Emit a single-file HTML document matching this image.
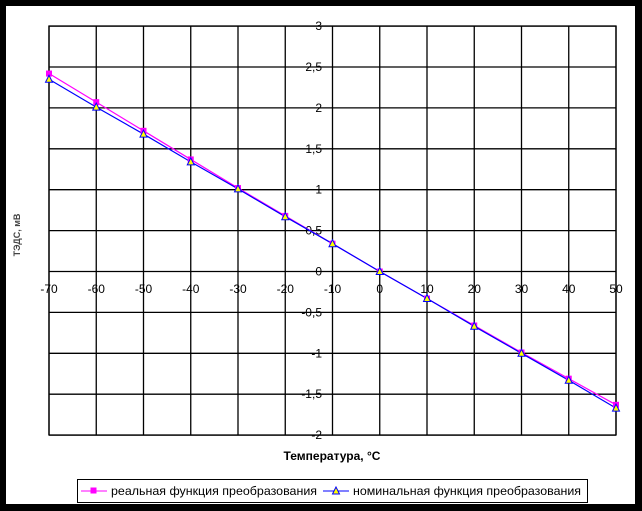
<!DOCTYPE html>
<html><head><meta charset="utf-8"><style>
body{margin:0;background:#000;}
svg{display:block;font-family:"Liberation Sans",sans-serif;}
</style></head><body>
<svg width="642" height="511" viewBox="0 0 642 511">
<rect x="0" y="0" width="642" height="511" fill="#000"/>
<rect x="6" y="6" width="629" height="498" fill="#fff"/>
<g stroke="#000" stroke-width="1.3">
<rect x="49" y="26" width="567" height="409" fill="none"/>
</g>
<g id="grid" stroke="#000" stroke-width="1.3"></g>
<g id="lbl" font-size="12" fill="#000"></g>
<g id="ser"></g>
<text x="332" y="460" font-size="12" font-weight="bold" text-anchor="middle">Температура, °C</text>
<text transform="translate(20,235) rotate(-90)" font-size="9" font-weight="bold" text-anchor="middle" fill="#444">ТЭДС, мВ</text>
<rect x="77.5" y="479.5" width="510" height="23" fill="#fff" stroke="#000"/>
<line x1="81" y1="491" x2="107" y2="491" stroke="#ff00ff"/>
<rect x="90.5" y="487.5" width="6" height="6" fill="#ff00ff"/>
<text x="111" y="495" font-size="12" textLength="206" lengthAdjust="spacingAndGlyphs">реальная функция преобразования</text>
<line x1="323" y1="491" x2="349" y2="491" stroke="#0000ff"/>
<polygon points="336,487 332.5,494 339.5,494" fill="#ffff00" stroke="#0000ff"/>
<text x="353" y="495" font-size="12" textLength="228" lengthAdjust="spacingAndGlyphs">номинальная функция преобразования</text>
</svg>
<script>
var ns="http://www.w3.org/2000/svg";
function el(p,t,a,txt){var e=document.createElementNS(ns,t);for(var k in a)e.setAttribute(k,a[k]);if(txt!=null)e.textContent=txt;document.getElementById(p).appendChild(e);return e;}
function X(t){return 49+(t+70)*4.725;}
function Y(v){return 271.5-v*81.8;}
for(var t=-70;t<=50;t+=10){el("grid","line",{x1:X(t),x2:X(t),y1:26,y2:435});
el("lbl","text",{x:X(t),y:293,"text-anchor":"middle"},String(t));}
for(var i=0;i<=10;i++){var v=3-i*0.5;el("grid","line",{x1:49,x2:616,y1:Y(v),y2:Y(v)});
el("lbl","text",{x:322,y:Y(v)+4,"text-anchor":"end"},String(v).replace(".",","));}
var T=[-70,-60,-50,-40,-30,-20,-10,0,10,20,30,40,50];
var R=[2.42,2.07,1.72,1.37,1.02,0.68,0.34,0,-0.33,-0.66,-0.99,-1.31,-1.63];
var N=[2.35,2.01,1.68,1.34,1.01,0.67,0.34,0,-0.33,-0.67,-1.0,-1.33,-1.67];
var pr=T.map(function(t,i){return X(t)+","+Y(R[i]);}).join(" ");
var pn=T.map(function(t,i){return X(t)+","+Y(N[i]);}).join(" ");
el("ser","polyline",{points:pr,fill:"none",stroke:"#ff00ff","stroke-width":1.2});
el("ser","polyline",{points:pn,fill:"none",stroke:"#0000ff","stroke-width":1.2});
T.forEach(function(t,i){el("ser","rect",{x:X(t)-3,y:Y(R[i])-3,width:6,height:6,fill:"#ff00ff"});});
T.forEach(function(t,i){var x=X(t),y=Y(N[i]);el("ser","polygon",{points:x+","+(y-4)+" "+(x-3.5)+","+(y+3)+" "+(x+3.5)+","+(y+3),fill:"#ffff00",stroke:"#0000ff"});});
</script>
</body></html>
